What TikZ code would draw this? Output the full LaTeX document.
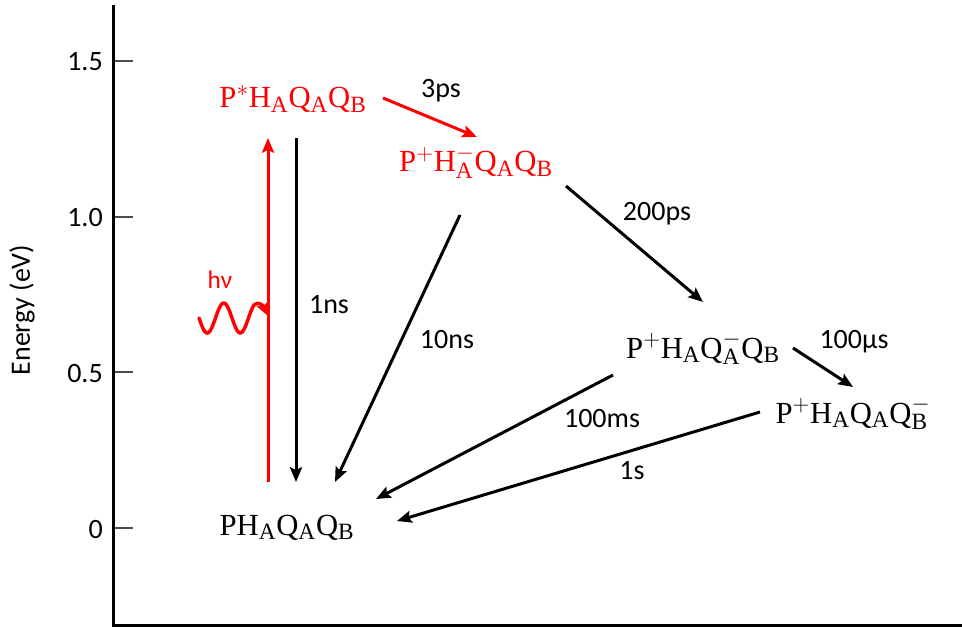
\RequirePackage{fix-cm}
\documentclass[tikz,border=0pt]{standalone}
\usepackage{fontspec}
\setmainfont{Liberation Serif}
\setsansfont{Carlito}
\DeclareMathSizes{23}{23}{17.5}{13}
\usetikzlibrary{arrows.meta}

\begin{document}
\begin{tikzpicture}[x=0.75pt,y=-0.75pt,
  state/.style={anchor=base,inner sep=0pt,font=\fontsize{23}{27}\selectfont},
  rate/.style={anchor=base,inner sep=0pt,font=\sffamily\fontsize{21}{25}\selectfont},
  ticklab/.style={anchor=base east,inner sep=0pt,font=\sffamily\fontsize{21}{25}\selectfont},
  arr/.style={line width=2.25pt,-{Stealth[length=11pt,width=9pt,inset=2pt]}}]
\useasboundingbox (0,0) rectangle (963,627);
% axes
\draw[line width=2.5pt] (113.5,5) -- (113.5,625.5) -- (962,625.5);
\foreach \yy/\lab [count=\i] in {61/1.5,217/1.0,372/0.5,528/0}
  {\draw[line width=1pt,black!70] (115,\yy) -- (133,\yy);
   \node[ticklab] (tick\i) at (103,\yy+10) {\lab};}
\node[rotate=90,inner sep=0pt,font=\sffamily\fontsize{21}{25}\selectfont] (ylab) at (22,310) {Energy (eV)};
% states
\node[state,text=red] (pstar) at (293,108) {$\mathrm{P^{*}H_{A}Q_{A}Q_{B}}$};
\node[state,text=red] (phm) at (476,172) {$\mathrm{P^{+}H_{A}^{-}Q_{A}Q_{B}}$};
\node[state] (pqa) at (703,358) {$\mathrm{P^{+}H_{A}Q_{A}^{-}Q_{B}}$};
\node[state] (pqb) at (853,423) {$\mathrm{P^{+}H_{A}Q_{A}Q_{B}^{-}}$};
\node[state] (ground) at (287,535) {$\mathrm{PH_{A}Q_{A}Q_{B}}$};
% transitions
\draw[arr,red] ([shift={(-19,-53)}]ground.base) -- ([shift={(-25,30)}]pstar.base);
\draw[arr] ([shift={(3,30)}]pstar.base) -- ([shift={(9,-53)}]ground.base);
\draw[arr,red] ([shift={(90,-10)}]pstar.base) -- ([shift={(1,-35)}]phm.base);
\draw[arr] ([shift={(-16,43)}]phm.base) -- ([shift={(48,-53)}]ground.base);
\draw[arr] ([shift={(90,14)}]phm.base) -- ([shift={(0,-56)}]pqa.base);
\draw[arr] ([shift={(90,-10)}]pqa.base) -- ([shift={(0,-36)}]pqb.base);
\draw[arr] ([shift={(-90,17)}]pqa.base) -- ([shift={(89,-36)}]ground.base);
\draw[arr] ([shift={(-93,-11)}]pqb.base) -- ([shift={(110,-14)}]ground.base);
% photon
\coordinate (hit) at (268,316);
\draw[red,line width=2.6pt,line cap=round,-{Stealth[length=10pt,width=9pt,inset=2pt]}]
  plot[domain=199:254,samples=60,smooth] (\x,{318+15*sin(10.909*(\x-199))})
  .. controls (258,301) and (263,305) .. (hit);
\node[rate,text=red,font=\sffamily\fontsize{19}{23}\selectfont] (hnu) at (220,288) {hν};
% rates
\node[rate] (r3ps) at (441,98) {3ps};
\node[rate] (r1ns) at (329,313) {1ns};
\node[rate] (r10ns) at (447,348) {10ns};
\node[rate] (r200ps) at (657,221) {200ps};
\node[rate] (r100us) at (854,348) {100µs};
\node[rate] (r100ms) at (602,427) {100ms};
\node[rate] (r1s) at (632,479) {1s};
\end{tikzpicture}
\end{document}
